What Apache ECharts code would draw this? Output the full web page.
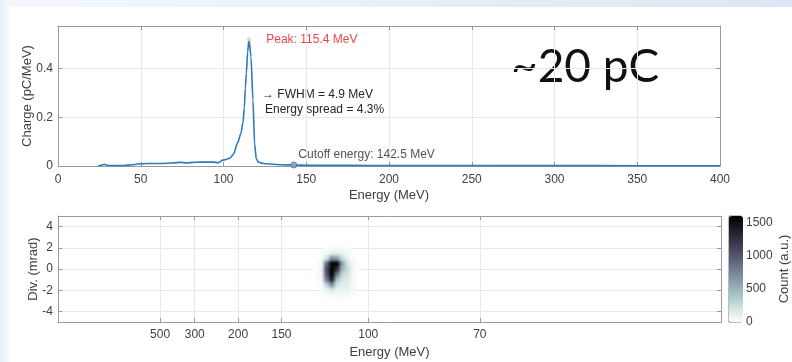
<!DOCTYPE html>
<html>
<head>
<meta charset="utf-8">
<script src="https://cdn.jsdelivr.net/npm/echarts@6/dist/echarts.min.js"></script>
<style>
  html, body { margin: 0; padding: 0; }
  body { width: 792px; height: 362px; overflow: hidden; position: relative; background: #ffffff; }
  #slideTop { position: absolute; left: 0; top: 0; width: 792px; height: 7px;
              background: linear-gradient(to right, #f4f8fc, #dbe7f4); }
  #slideLeft { position: absolute; left: 0; top: 0; width: 9px; height: 362px;
               background: linear-gradient(to right, #e4edf7, #f8fbfd); }
  #main, #blob { position: absolute; left: 0; top: 0; width: 792px; height: 362px; }
  #blob { filter: blur(1.8px); pointer-events: none; }
</style>
</head>
<body>
<div id="slideTop"></div>
<div id="slideLeft"></div>
<div id="main"></div>
<div id="blob"></div>
<script>
// ---- Electron energy spectrum (top panel) ----
const energyMeV = [24.4, 26, 28, 30.5, 35, 40, 45, 48, 50, 54, 60, 66, 70, 74, 78, 82, 86, 90, 94, 97,
  99.6, 102, 104, 106, 108.5, 110.5, 111.8, 112.6, 113.2, 113.8, 114.6, 115.4, 116.6, 117.8, 118.8,
  119.8, 121, 123, 126, 130, 135, 142.5, 150, 175, 200, 250, 300, 350, 400];
const chargePerMeV = [0.000, 0.003, 0.007, 0.002, 0.002, 0.002, 0.005, 0.008, 0.009, 0.010, 0.010,
  0.011, 0.013, 0.015, 0.013, 0.015, 0.016, 0.016, 0.016, 0.014, 0.024, 0.028, 0.033, 0.048, 0.095,
  0.133, 0.180, 0.240, 0.320, 0.380, 0.470, 0.520, 0.450, 0.270, 0.090, 0.030, 0.016, 0.012, 0.009,
  0.007, 0.005, 0.004, 0.003, 0.0025, 0.002, 0.0018, 0.0015, 0.0013, 0.0012];

const peakEnergy = 115.4, peakCharge = 0.52;
const cutoffEnergy = 142.5, cutoffCharge = 0.004;
const fwhmMeV = 4.9, spreadPct = 4.3;
const totalCharge = '~20 pC';

// ---- Divergence vs energy image (bottom panel) ----
// Spectrometer screen coordinate is linear in 1/E; bins in GeV^-1 (1000/E[MeV])
const energyTickLabels = [500, 300, 200, 150, 100, 70];
const divTicks = [-4, -2, 0, 2, 4];
const countTicks = [0, 500, 1000, 1500];
const invEnergyBins = [8.0, 8.2, 8.4, 8.6, 8.8, 9.0, 9.2, 9.4, 9.6];
const divBins = [2.0, 1.5, 1.0, 0.5, 0.0, -0.5, -1.0, -1.5, -2.0, -2.5];
const counts = [
  [0,   0,   20,   40,   40,   30,  20,  0,  0],
  [0,   20,  50,   120,  120,  80,  40,  20, 0],
  [10,  30,  200,  700,  600,  250, 100, 30, 0],
  [20,  60,  900,  1700, 1600, 600, 200, 60, 10],
  [20,  80,  1100, 1750, 1300, 500, 250, 80, 10],
  [20,  70,  1000, 1700, 800,  300, 200, 60, 10],
  [10,  60,  800,  1400, 400,  200, 150, 50, 0],
  [0,   30,  300,  700,  200,  120, 150, 50, 0],
  [0,   20,  80,   150,  80,   80,  100, 40, 0],
  [0,   0,   30,   40,   40,   40,  40,  20, 0]
];
const countMax = 1600;

// reversed "bone" colormap
const boneReversed = ['#ffffff', '#d3e3e3', '#a7c7c7', '#8ba1ab', '#707a8f', '#545474', '#38384d', '#1c1c26', '#000000'];

const FONT = 'Liberation Sans, Arial, sans-serif';
const AX = '#9a9a9a';
const TXT = '#404040';
const GRIDC = '#e8e8e8';
const invMin = -1.92, invMax = 23.55;
const toInv = e => 1000 / e;

const gridTop = { left: 58, top: 26, width: 662, height: 140 };
const gridBot = { left: 58, top: 216, width: 663, height: 106 };
const gridBar = { left: 729, top: 216, width: 14, height: 106 };

function tickStyle(extra) { return Object.assign({ show: true, inside: true, length: 4, lineStyle: { color: AX, width: 1 } }, extra || {}); }
function lineStyle() { return { show: true, onZero: false, lineStyle: { color: AX, width: 1 } }; }
function gridLines(extra) { return Object.assign({ show: true, lineStyle: { color: GRIDC, width: 1 } }, extra || {}); }
const nameStyle = { color: TXT, fontSize: 13, fontFamily: FONT };

const invTickValues = energyTickLabels.map(toInv);

const main = echarts.init(document.getElementById('main'), null, { renderer: 'canvas' });
main.setOption({
  animation: false,
  textStyle: { fontFamily: FONT },
  grid: [
    Object.assign({ containLabel: false }, gridTop),
    Object.assign({ containLabel: false }, gridBot),
    Object.assign({ containLabel: false, show: true, borderColor: '#777', borderWidth: 1, backgroundColor: 'transparent' }, gridBar)
  ],
  xAxis: [
    { type: 'value', gridIndex: 0, min: 0, max: 400, interval: 50, position: 'bottom',
      name: 'Energy (MeV)', nameLocation: 'middle', nameGap: 23, nameMoveOverlap: false,
      nameTextStyle: nameStyle,
      axisLine: lineStyle(), axisTick: tickStyle(),
      axisLabel: { color: TXT, fontSize: 12, margin: 8, fontFamily: FONT },
      splitLine: gridLines() },
    { type: 'value', gridIndex: 0, min: 0, max: 400, interval: 50, position: 'top',
      axisLine: lineStyle(), axisTick: tickStyle(), axisLabel: { show: false }, splitLine: { show: false } },
    { type: 'value', gridIndex: 1, min: invMin, max: invMax, position: 'bottom',
      name: 'Energy (MeV)', nameLocation: 'middle', nameGap: 24, nameMoveOverlap: false,
      nameTextStyle: nameStyle,
      axisLine: lineStyle(),
      axisTick: tickStyle({ customValues: invTickValues }),
      axisLabel: { color: TXT, fontSize: 12, margin: 7, fontFamily: FONT, customValues: invTickValues,
                   formatter: v => String(Math.round(1000 / v)) },
      splitLine: gridLines({ customValues: invTickValues }) },
    { type: 'value', gridIndex: 1, min: invMin, max: invMax, position: 'top',
      axisLine: lineStyle(),
      axisTick: tickStyle({ customValues: invTickValues }),
      axisLabel: { show: false, customValues: invTickValues }, splitLine: { show: false } },
    { type: 'value', gridIndex: 2, min: 0, max: 1, show: false }
  ],
  yAxis: [
    { type: 'value', gridIndex: 0, min: 0, max: 0.575, interval: 0.2, position: 'left',
      name: 'Charge (pC/MeV)', nameLocation: 'middle', nameGap: 24, nameMoveOverlap: false,
      nameTextStyle: nameStyle,
      axisLine: lineStyle(), axisTick: tickStyle(),
      axisLabel: { color: TXT, fontSize: 12, margin: 5, fontFamily: FONT, showMaxLabel: false },
      splitLine: gridLines() },
    { type: 'value', gridIndex: 0, min: 0, max: 0.575, interval: 0.2, position: 'right',
      axisLine: lineStyle(), axisTick: tickStyle(), axisLabel: { show: false }, splitLine: { show: false } },
    { type: 'value', gridIndex: 1, min: -5, max: 5, position: 'left',
      name: 'Div. (mrad)', nameLocation: 'middle', nameGap: 18, nameMoveOverlap: false,
      nameTextStyle: nameStyle,
      axisLine: lineStyle(),
      axisTick: tickStyle({ customValues: divTicks }),
      axisLabel: { color: TXT, fontSize: 12, margin: 5, fontFamily: FONT, customValues: divTicks },
      splitLine: gridLines({ customValues: divTicks }) },
    { type: 'value', gridIndex: 1, min: -5, max: 5, position: 'right',
      axisLine: lineStyle(),
      axisTick: tickStyle({ customValues: divTicks }),
      axisLabel: { show: false, customValues: divTicks }, splitLine: { show: false } },
    { type: 'value', gridIndex: 2, min: 0, max: countMax, position: 'right',
      name: 'Count (a.u.)', nameLocation: 'middle', nameGap: 37, nameRotate: 90, nameMoveOverlap: false,
      nameTextStyle: nameStyle,
      axisLine: { show: false, onZero: false },
      axisTick: { show: false, customValues: countTicks },
      axisLabel: { color: TXT, fontSize: 12, margin: 5, fontFamily: FONT, customValues: countTicks,
                   formatter: v => String(v) },
      splitLine: { show: false } }
  ],
  visualMap: [{
    type: 'continuous', seriesIndex: [], min: 0, max: countMax, calculable: false,
    orient: 'vertical', left: gridBar.left, top: gridBar.top, padding: 0,
    itemWidth: gridBar.width, itemHeight: gridBar.height,
    inRange: { color: boneReversed }, text: null, showLabel: false
  }],
  series: [
    { type: 'line', xAxisIndex: 0, yAxisIndex: 0,
      data: energyMeV.map((e, i) => [e, chargePerMeV[i]]),
      showSymbol: false, smooth: 0.25, smoothMonotone: 'x',
      lineStyle: { color: '#2b7bc0', width: 1.6 }, z: 3 },
    { type: 'scatter', xAxisIndex: 0, yAxisIndex: 0, z: 4,
      data: [
        { value: [peakEnergy, peakCharge], symbolSize: 4,
          itemStyle: { color: '#ebe6b4', borderColor: '#c9c48a', borderWidth: 0.5 },
          label: { show: true, position: 'right', distance: 15, color: '#e8141a', fontSize: 12, fontFamily: FONT,
                   formatter: p => 'Peak: ' + p.value[0].toFixed(1) + ' MeV' } },
        { value: [cutoffEnergy, cutoffCharge], symbolSize: 6,
          itemStyle: { color: '#86a2c0', borderColor: '#4f7099', borderWidth: 1 },
          label: { show: true, position: 'right', distance: 1, offset: [0, -10], color: '#262626', fontSize: 12, fontFamily: FONT,
                   formatter: p => 'Cutoff energy: ' + p.value[0].toFixed(1) + ' MeV' } }
      ] }
  ],
  graphic: [
    { type: 'text', left: 262, top: 89, style: { text: '\u2192 FWHM = ' + fwhmMeV + ' MeV', fill: '#262626', font: '12px ' + FONT } },
    { type: 'text', left: 265, top: 104, style: { text: 'Energy spread = ' + spreadPct + '%', fill: '#262626', font: '12px ' + FONT } },
    { type: 'text', left: 511, top: 44, style: { text: totalCharge, fill: '#111111', font: '400 46px Lato, "Open Sans", sans-serif' } }
  ]
});

// Divergence image, drawn on its own layer so it can be softened
const cells = [];
divBins.forEach((d, i) => invEnergyBins.forEach((u, j) => {
  if (counts[i][j] > 0) cells.push([u, d, counts[i][j]]);
}));
const du = 0.2, dd = 0.5;

const blob = echarts.init(document.getElementById('blob'), null, { renderer: 'canvas' });
blob.setOption({
  animation: false,
  grid: [Object.assign({ containLabel: false }, gridBot)],
  xAxis: [{ type: 'value', min: invMin, max: invMax, show: false }],
  yAxis: [{ type: 'value', min: -5, max: 5, show: false }],
  visualMap: [{ type: 'continuous', show: false, seriesIndex: 0, dimension: 2, min: 0, max: countMax,
                inRange: { color: boneReversed } }],
  series: [{
    type: 'custom', data: cells, encode: { x: 0, y: 1 },
    renderItem: (params, api) => {
      const u = api.value(0), d = api.value(1);
      const p0 = api.coord([u - du / 2, d + dd / 2]);
      const p1 = api.coord([u + du / 2, d - dd / 2]);
      return { type: 'rect',
        shape: { x: p0[0], y: p0[1], width: p1[0] - p0[0] + 0.5, height: p1[1] - p0[1] + 0.5 },
        style: { fill: api.visual('color') } };
    }
  }]
});
</script>
</body>
</html>
